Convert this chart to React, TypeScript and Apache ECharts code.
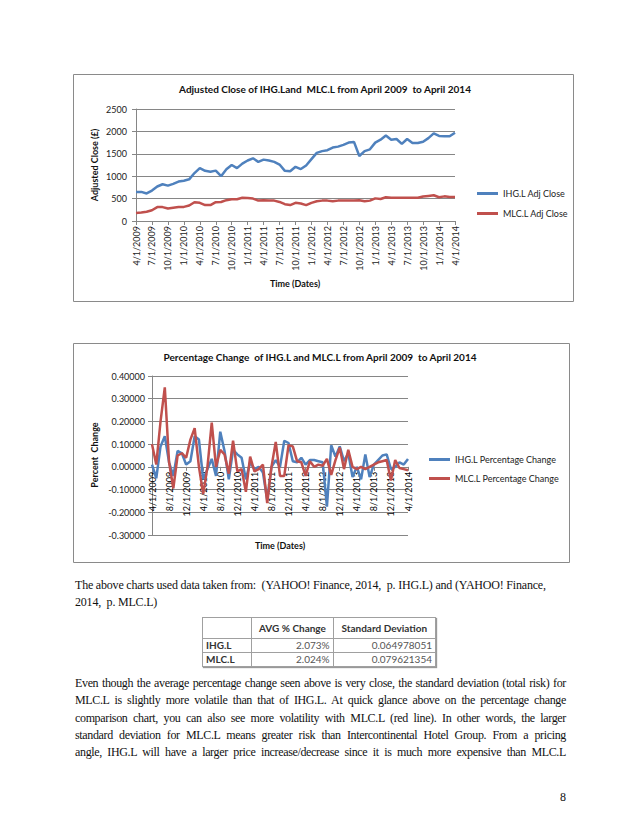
import React, { useEffect, useRef } from "react";
import * as echarts from "echarts";

const dates = [
  "4/1/2009", "5/1/2009", "6/1/2009", "7/1/2009", "8/1/2009", "9/1/2009", "10/1/2009", "11/1/2009", "12/1/2009",
  "1/1/2010", "2/1/2010", "3/1/2010", "4/1/2010", "5/1/2010", "6/1/2010", "7/1/2010", "8/1/2010", "9/1/2010", "10/1/2010", "11/1/2010", "12/1/2010",
  "1/1/2011", "2/1/2011", "3/1/2011", "4/1/2011", "5/1/2011", "6/1/2011", "7/1/2011", "8/1/2011", "9/1/2011", "10/1/2011", "11/1/2011", "12/1/2011",
  "1/1/2012", "2/1/2012", "3/1/2012", "4/1/2012", "5/1/2012", "6/1/2012", "7/1/2012", "8/1/2012", "9/1/2012", "10/1/2012", "11/1/2012", "12/1/2012",
  "1/1/2013", "2/1/2013", "3/1/2013", "4/1/2013", "5/1/2013", "6/1/2013", "7/1/2013", "8/1/2013", "9/1/2013", "10/1/2013", "11/1/2013", "12/1/2013",
  "1/1/2014", "2/1/2014", "3/1/2014", "4/1/2014",
];

const ihgClose = [
  650, 650, 615, 680, 770, 820, 790, 830, 880, 900, 930, 1070, 1180, 1120, 1100, 1125, 1000, 1155, 1250, 1180,
  1280, 1350, 1400, 1320, 1370, 1350, 1320, 1260, 1120, 1110, 1210, 1160, 1240, 1380, 1520, 1560, 1580, 1640, 1660, 1700,
  1750, 1765, 1450, 1560, 1600, 1750, 1815, 1910, 1815, 1830, 1720, 1830, 1740, 1740, 1770, 1850, 1955, 1900, 1890, 1890,
  1970,
];

const mlcClose = [
  180, 190, 205, 240, 310, 310, 280, 295, 310, 315, 345, 420, 405, 355, 355, 420, 425, 465, 485, 485,
  520, 515, 500, 455, 465, 455, 455, 425, 375, 355, 405, 390, 355, 405, 440, 455, 455, 440, 455, 455,
  455, 455, 465, 440, 455, 505, 490, 530, 520, 520, 520, 520, 520, 520, 545, 560, 575, 530, 550, 535,
  535,
];

const ihgPct = [
  0.01, -0.05, 0.09, 0.135, 0.02, -0.04, 0.07, 0.06, 0.01, 0.025, 0.135, 0.12, -0.055, -0.01, 0.035, -0.04, 0.155, 0.07, -0.055, 0.075,
  0.055, 0.04, -0.055, 0.02, -0.01, 0.0, -0.025, -0.145, 0.0, 0.03, 0.0, 0.115, 0.105, 0.025, 0.02, 0.04, 0.01, 0.03, 0.03, 0.025,
  0.02, -0.175, 0.095, 0.045, 0.09, 0.025, 0.06, -0.045, 0.0, -0.055, 0.055, -0.045, 0.01, 0.03, 0.05, 0.055, -0.01, 0.0, 0.02, 0.01,
  0.035,
];

const mlcPct = [
  0.1, 0.01, 0.2, 0.35, 0.02, -0.095, 0.05, 0.06, 0.04, 0.12, 0.17, 0.0, -0.12, 0.0, 0.195, 0.0, 0.075, 0.055, -0.03, 0.115,
  -0.02, -0.01, -0.11, 0.045, -0.02, -0.01, 0.01, -0.16, 0.0, 0.11, -0.04, -0.04, 0.095, 0.09, 0.025, 0.02, -0.04, 0.025, 0.0, 0.01,
  0.005, 0.035, -0.035, 0.03, 0.085, -0.01, 0.075, 0.0, -0.01, 0.0, -0.01, 0.0, 0.01, 0.02, 0.025, 0.03, -0.06, 0.03, -0.005, -0.01,
  -0.015,
];

const tableHeader = ["", "AVG % Change", "Standard Deviation"];
const tableRows = [
  ["IHG.L", "2.073%", "0.064978051"],
  ["MLC.L", "2.024%", "0.079621354"],
];

const paragraphLines = [
  "Even though the average percentage change seen above is very close, the standard deviation (total risk) for",
  "MLC.L is slightly more volatile than that of IHG.L.  At quick glance above on the percentage change",
  "comparison chart, you can also see more volatility with MLC.L (red line).  In other words, the larger",
  "standard deviation for MLC.L means greater risk than Intercontinental Hotel Group.  From a pricing",
  "angle, IHG.L will have a larger price increase/decrease since it is much more expensive than MLC.L",
];

const FONT = "Lato, 'Open Sans', sans-serif";
const BLUE = "#4F81BD";
const RED = "#C0504D";
const GRID = "#868686";

export default function App() {
  const ref = useRef<HTMLDivElement>(null);

  useEffect(() => {
    if (!ref.current) return;
    const chart = echarts.init(ref.current, undefined, { renderer: "svg" });
    const axisLabel = { fontFamily: FONT, fontSize: 9, color: "#222" };
    // grid 2: top 376, height 159, range -0.3..0.4 -> zero line offset from bottom
    const zeroOffset = -(159 * 0.3) / 0.7;
    const option: any = {
      animation: false,
      backgroundColor: "#fff",
      textStyle: { fontFamily: FONT },
      grid: [
        { left: 136, top: 109, width: 319, height: 112 },
        { left: 152, top: 376, width: 256, height: 159 },
      ],
      xAxis: [
        {
          gridIndex: 0,
          type: "category",
          data: dates,
          boundaryGap: false,
          axisLine: { lineStyle: { color: GRID } },
          axisTick: { interval: 2, length: 4, lineStyle: { color: GRID } },
          axisLabel: { ...axisLabel, interval: 2, rotate: 90, margin: 5 },
        },
        {
          gridIndex: 1,
          type: "category",
          data: dates,
          boundaryGap: false,
          position: "bottom",
          offset: zeroOffset,
          axisLine: { onZero: false, lineStyle: { color: GRID } },
          axisTick: { interval: 3, length: 4, lineStyle: { color: GRID } },
          axisLabel: { ...axisLabel, color: "#000", interval: 3, rotate: 90, margin: 5 },
        },
      ],
      yAxis: [
        {
          gridIndex: 0,
          type: "value",
          min: 0,
          max: 2500,
          interval: 500,
          axisLine: { show: true, lineStyle: { color: GRID } },
          axisTick: { show: true, length: 4, lineStyle: { color: GRID } },
          splitLine: { lineStyle: { color: GRID } },
          axisLabel: { ...axisLabel, margin: 9, formatter: (v: number) => String(Math.round(v)) },
        },
        {
          gridIndex: 1,
          type: "value",
          min: -0.3,
          max: 0.4,
          interval: 0.1,
          axisLine: { show: true, lineStyle: { color: GRID } },
          axisTick: { show: true, length: 4, lineStyle: { color: GRID } },
          splitLine: { lineStyle: { color: GRID } },
          axisLabel: { ...axisLabel, margin: 7, formatter: (v: number) => v.toFixed(5) },
        },
      ],
      legend: [
        {
          data: ["IHG.L Adj Close", "MLC.L Adj Close"],
          orient: "vertical",
          left: 472,
          top: 184,
          icon: "rect",
          itemWidth: 21,
          itemHeight: 3,
          itemGap: 11,
          textStyle: { fontFamily: FONT, fontSize: 9, color: "#222" },
        },
        {
          data: ["IHG.L Percentage Change", "MLC.L Percentage Change"],
          orient: "vertical",
          left: 424,
          top: 450,
          icon: "rect",
          itemWidth: 21,
          itemHeight: 3,
          itemGap: 10,
          textStyle: { fontFamily: FONT, fontSize: 9, color: "#222" },
        },
      ],
      series: [
        { name: "IHG.L Adj Close", type: "line", xAxisIndex: 0, yAxisIndex: 0, data: ihgClose, symbol: "none", lineStyle: { color: BLUE, width: 2.5 }, itemStyle: { color: BLUE } },
        { name: "MLC.L Adj Close", type: "line", xAxisIndex: 0, yAxisIndex: 0, data: mlcClose, symbol: "none", lineStyle: { color: RED, width: 2.5 }, itemStyle: { color: RED } },
        { name: "IHG.L Percentage Change", type: "line", xAxisIndex: 1, yAxisIndex: 1, data: ihgPct, symbol: "none", lineStyle: { color: BLUE, width: 2.5 }, itemStyle: { color: BLUE } },
        { name: "MLC.L Percentage Change", type: "line", xAxisIndex: 1, yAxisIndex: 1, data: mlcPct, symbol: "none", lineStyle: { color: RED, width: 2.5 }, itemStyle: { color: RED } },
      ],
      graphic: [
        { type: "rect", shape: { x: 73.5, y: 74.5, width: 500, height: 227 }, style: { fill: "none", stroke: "#8a8a8a", lineWidth: 1 }, silent: true },
        { type: "rect", shape: { x: 73.5, y: 343.5, width: 496, height: 219 }, style: { fill: "none", stroke: "#8a8a8a", lineWidth: 1 }, silent: true },
        { type: "text", x: 325, y: 89, style: { text: "Adjusted Close of IHG.Land  MLC.L from April 2009  to April 2014", font: `bold 10px ${FONT}`, fill: "#111", align: "center", verticalAlign: "middle" } },
        { type: "text", x: 320, y: 357, style: { text: "Percentage Change  of IHG.L and MLC.L from April 2009  to April 2014", font: `bold 10px ${FONT}`, fill: "#111", align: "center", verticalAlign: "middle" } },
        { type: "text", x: 94, y: 165, rotation: Math.PI / 2, style: { text: "Adjusted Close (£)", font: `bold 9px ${FONT}`, fill: "#111", align: "center", verticalAlign: "middle" } },
        { type: "text", x: 94, y: 455, rotation: Math.PI / 2, style: { text: "Percent  Change", font: `bold 9px ${FONT}`, fill: "#111", align: "center", verticalAlign: "middle" } },
        { type: "text", x: 295, y: 283, style: { text: "Time (Dates)", font: `bold 9px ${FONT}`, fill: "#111", align: "center", verticalAlign: "middle" } },
        { type: "text", x: 280, y: 545, style: { text: "Time (Dates)", font: `bold 9px ${FONT}`, fill: "#111", align: "center", verticalAlign: "middle" } },
      ],
    };
    chart.setOption(option);
    return () => chart.dispose();
  }, []);

  const serif = "'Liberation Serif', 'Times New Roman', serif";
  const cell: React.CSSProperties = { border: "1px solid #a0a0a0", padding: "0 3px", height: 13, lineHeight: "13px" };

  return (
    <div style={{ position: "absolute", left: 0, top: 0, width: 638, height: 826, background: "#fff", overflow: "hidden" }}>
      <div ref={ref} style={{ position: "absolute", left: 0, top: 0, width: 638, height: 570 }} />
      <div style={{ position: "absolute", left: 75, top: 577, width: 491, fontFamily: serif, fontSize: 12, letterSpacing: "-0.2px", lineHeight: "17px", color: "#111" }}>
        The above charts used data taken from:&nbsp; (YAHOO! Finance, 2014,&nbsp; p. IHG.L) and (YAHOO! Finance,
        <br />
        2014,&nbsp; p. MLC.L)
      </div>
      <table
        style={{
          position: "absolute",
          left: 202,
          top: 617,
          width: 234,
          borderCollapse: "collapse",
          fontFamily: FONT,
          fontSize: 10,
          border: "1px solid #666",
          boxShadow: "1px 1px 1px #999",
        }}
      >
        <tbody>
          <tr>
            {tableHeader.map((h, i) => (
              <td key={i} style={{ ...cell, height: 20, fontWeight: "bold", color: "#333", textAlign: "center", width: i === 0 ? 43 : i === 1 ? 76 : 97 }}>
                {h}
              </td>
            ))}
          </tr>
          {tableRows.map((r, ri) => (
            <tr key={ri}>
              {r.map((c, ci) => (
                <td key={ci} style={{ ...cell, fontWeight: ci === 0 ? "bold" : "normal", color: ci === 0 ? "#333" : "#555", textAlign: ci === 0 ? "left" : "right" }}>
                  {c}
                </td>
              ))}
            </tr>
          ))}
        </tbody>
      </table>
      <div style={{ position: "absolute", left: 75, top: 675, width: 491, fontFamily: serif, fontSize: 12, letterSpacing: "-0.35px", lineHeight: "17.3px", color: "#111" }}>
        {paragraphLines.map((l, i) => (
          <div key={i} style={{ textAlign: "justify", textAlignLast: "justify" as any }}>{l}</div>
        ))}
      </div>
      <div style={{ position: "absolute", left: 540, top: 790, width: 26, textAlign: "right", fontFamily: serif, fontSize: 12, color: "#111" }}>8</div>
    </div>
  );
}
